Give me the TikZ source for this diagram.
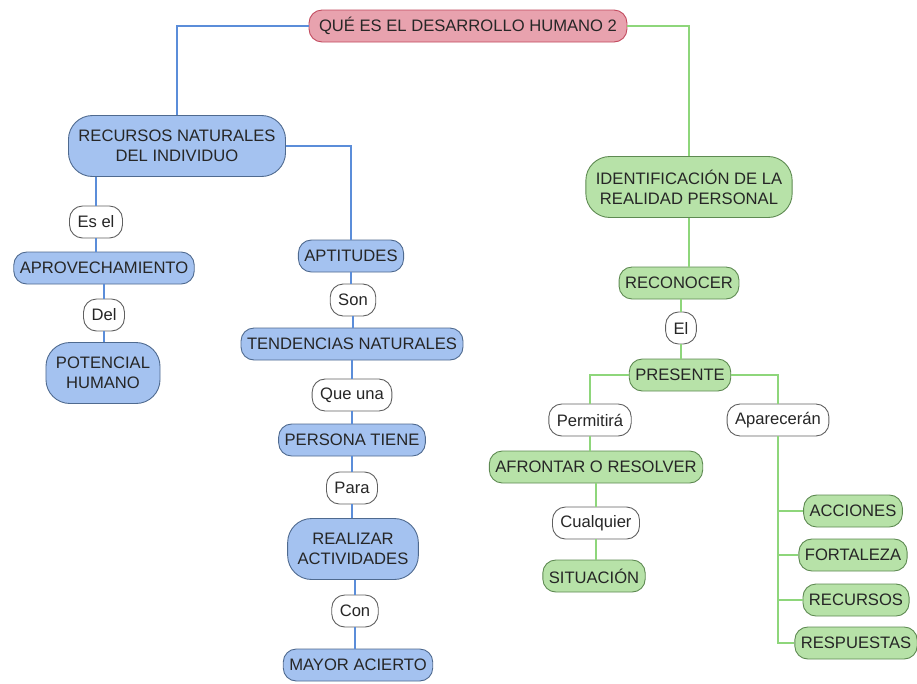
\documentclass[tikz,border=0pt]{standalone}
\usepackage{fontspec}
\setmainfont{Liberation Sans}
\definecolor{bluefill}{HTML}{A4C2F0}
\definecolor{blueedge}{HTML}{4F6A8F}
\definecolor{blueln}{HTML}{5B8DD9}
\definecolor{greenfill}{HTML}{B7E2A8}
\definecolor{greenedge}{HTML}{5E8A52}
\definecolor{greenln}{HTML}{8ED67B}
\definecolor{pinkfill}{HTML}{E8A2AE}
\definecolor{pinkedge}{HTML}{C24A5E}
\definecolor{wordedge}{HTML}{606060}
\begin{document}
\begin{tikzpicture}[x=1pt,y=-1pt,
    concept/.style={draw,rounded corners=13pt,line width=0.9pt,minimum height=32pt,
      inner xsep=6pt,font=\fontsize{16.6}{20}\selectfont,text=black!85,align=center},
    twoline/.style={rounded corners=24pt,minimum height=61pt,inner xsep=10pt},
    bluebox/.style={concept,fill=bluefill,draw=blueedge},
    greenbox/.style={concept,fill=greenfill,draw=greenedge},
    rootbox/.style={concept,fill=pinkfill,draw=pinkedge,inner xsep=10pt},
    wordbox/.style={concept,fill=white,draw=wordedge,minimum height=32pt,inner xsep=8pt},
    bluelink/.style={draw=blueln,line width=1.7pt},
    greenlink/.style={draw=greenln,line width=1.7pt}]
  \useasboundingbox (0,0) rectangle (917,683);

  \node[rootbox] (root) at (468,26) {QUÉ ES EL DESARROLLO HUMANO 2};

  % left branch
  \node[bluebox,twoline] (recursos) at (177,146) {RECURSOS NATURALES\\DEL INDIVIDUO};
  \node[wordbox] (esel) at (96,222) {Es el};
  \node[bluebox] (aprov) at (104,268) {APROVECHAMIENTO};
  \node[wordbox] (del) at (104,315) {Del};
  \node[bluebox,twoline] (potencial) at (103,373) {POTENCIAL\\HUMANO};
  \node[bluebox] (aptitudes) at (351,256) {APTITUDES};
  \node[wordbox] (son) at (353,300) {Son};
  \node[bluebox] (tendencias) at (352,344) {TENDENCIAS NATURALES};
  \node[wordbox] (queuna) at (352,395) {Que una};
  \node[bluebox] (persona) at (352,440) {PERSONA TIENE};
  \node[wordbox] (para) at (352,488) {Para};
  \node[bluebox,twoline] (realizar) at (353,549) {REALIZAR\\ACTIVIDADES};
  \node[wordbox] (con) at (355,611) {Con};
  \node[bluebox] (mayor) at (358,665) {MAYOR ACIERTO};

  % right branch
  \node[greenbox,twoline] (ident) at (689,187) {IDENTIFICACIÓN DE LA\\REALIDAD PERSONAL};
  \node[greenbox] (reconocer) at (679,283) {RECONOCER};
  \node[wordbox] (el) at (681,328) {El};
  \node[greenbox] (presente) at (680,375) {PRESENTE};
  \node[wordbox] (permitira) at (590,420) {Permitirá};
  \node[wordbox] (aparecen) at (778,420) {Aparecerán};
  \node[greenbox] (afrontar) at (596,467) {AFRONTAR O RESOLVER};
  \node[wordbox] (cualquier) at (596,523) {Cualquier};
  \node[greenbox] (situacion) at (594,576) {SITUACIÓN};
  \node[greenbox] (acciones) at (853,511) {ACCIONES};
  \node[greenbox] (fortaleza) at (853,555) {FORTALEZA};
  \node[greenbox] (recursosb) at (856,600) {RECURSOS};
  \node[greenbox] (respuestas) at (856,643) {RESPUESTAS};

  % connectors
  \draw[bluelink] (root.west) -| (recursos.north);
  \draw[bluelink] (recursos.east) -| (aptitudes.north);
  \draw[bluelink] (esel.north) -- (esel.north |- recursos.south);
  \draw[bluelink] (esel.south) -- (esel.south |- aprov.north);
  \draw[bluelink] (aprov.south) -- (aprov.south |- del.north);
  \draw[bluelink] (del.south) -- (del.south |- potencial.north);
  \draw[bluelink] (aptitudes.south) -- (aptitudes.south |- son.north);
  \draw[bluelink] (son.south) -- (son.south |- tendencias.north);
  \draw[bluelink] (queuna.north) -- (queuna.north |- tendencias.south);
  \draw[bluelink] (queuna.south) -- (queuna.south |- persona.north);
  \draw[bluelink] (para.north) -- (para.north |- persona.south);
  \draw[bluelink] (para.south) -- (para.south |- realizar.north);
  \draw[bluelink] (con.north) -- (con.north |- realizar.south);
  \draw[bluelink] (con.south) -- (con.south |- mayor.north);

  \draw[greenlink] (root.east) -| (ident.north);
  \draw[greenlink] (ident.south) -- (ident.south |- reconocer.north);
  \draw[greenlink] (el.north) -- (el.north |- reconocer.south);
  \draw[greenlink] (el.south) -- (el.south |- presente.north);
  \draw[greenlink] (presente.west) -| (permitira.north);
  \draw[greenlink] (presente.east) -| (aparecen.north);
  \draw[greenlink] (permitira.south) -- (permitira.south |- afrontar.north);
  \draw[greenlink] (cualquier.north) -- (cualquier.north |- afrontar.south);
  \draw[greenlink] (cualquier.south) -- (cualquier.south |- situacion.north);
  \draw[greenlink] (aparecen.south) |- (respuestas.west);
  \draw[greenlink] (aparecen.south |- acciones) -- (acciones.west);
  \draw[greenlink] (aparecen.south |- fortaleza) -- (fortaleza.west);
  \draw[greenlink] (aparecen.south |- recursosb) -- (recursosb.west);
\end{tikzpicture}
\end{document}
